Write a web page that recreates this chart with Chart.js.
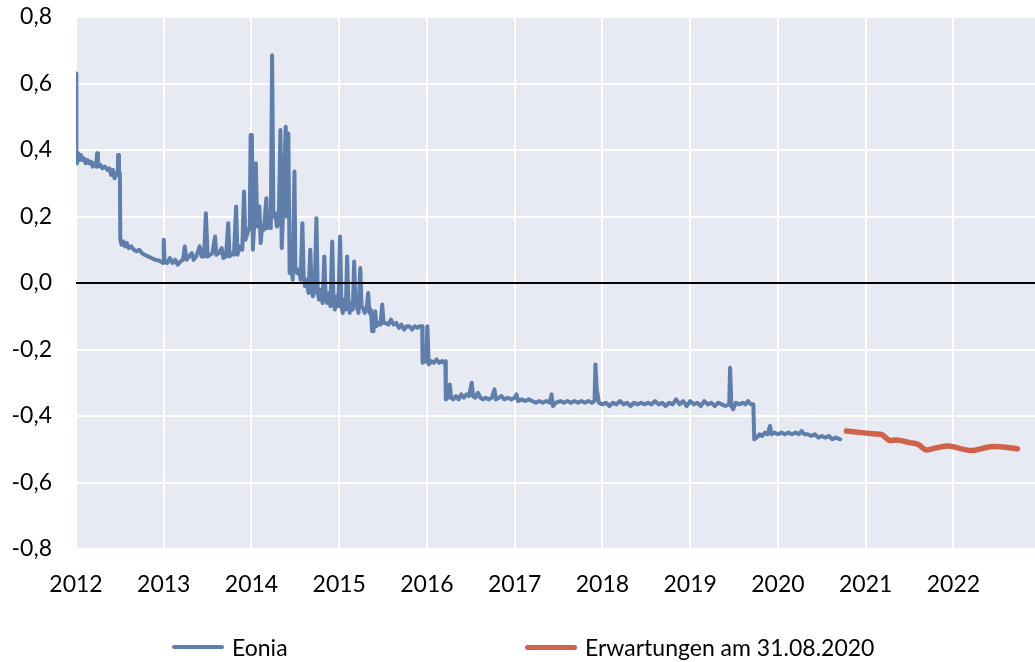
<!DOCTYPE html>
<html lang="de">
<head>
    <meta charset="UTF-8">
    <title>Eonia und Erwartungen</title>
    <script src="https://cdn.jsdelivr.net/npm/chart.js"></script>
    <style>
        body {
            margin: 0;
            background: #fff;
            font-family: 'Lato', sans-serif;
        }

        .chart-wrap {
            position: relative;
            width: 1035px;
            height: 662px;
        }

        .legend {
            position: absolute;
            top: 633px;
            left: 0;
            width: 1035px;
            height: 28px;
        }

        .legend-item {
            position: absolute;
            top: 0;
            display: flex;
            align-items: center;
            height: 28px;
            font-size: 23px;
            color: #000;
            white-space: nowrap;
        }

        .legend-line {
            display: inline-block;
            width: 52px;
            margin-right: 8px;
            border-radius: 3px;
        }
    </style>
</head>
<body>
    <div class="chart-wrap">
        <canvas id="eoniaChart"></canvas>
        <div class="legend">
            <div class="legend-item" style="left:172px">
                <span class="legend-line" style="height:4px;background:#5f7eac"></span>Eonia
            </div>
            <div class="legend-item" style="left:525px">
                <span class="legend-line" style="height:5px;background:#d0624c"></span>Erwartungen am 31.08.2020
            </div>
        </div>
    </div>

    <script>
        // Eonia, Tageswerte, x = Jahr als Dezimalzahl
        const eoniaX = [
            2012.000, 2012.004, 2012.012, 2012.025, 2012.040, 2012.055, 2012.070, 2012.090, 2012.110, 2012.130,
            2012.150, 2012.170, 2012.190, 2012.210, 2012.230, 2012.240, 2012.250, 2012.280, 2012.300, 2012.330,
            2012.360, 2012.380, 2012.400, 2012.420, 2012.440, 2012.460, 2012.475, 2012.480, 2012.490, 2012.500,
            2012.505, 2012.520, 2012.540, 2012.560, 2012.580, 2012.600, 2012.630, 2012.660, 2012.690, 2012.720,
            2012.750, 2012.780, 2012.820, 2012.860, 2012.900, 2012.940, 2012.970, 2012.995, 2013.000, 2013.010,
            2013.040, 2013.070, 2013.100, 2013.130, 2013.160, 2013.190, 2013.220, 2013.240, 2013.260, 2013.290,
            2013.320, 2013.340, 2013.370, 2013.410, 2013.430, 2013.460, 2013.480, 2013.500, 2013.530, 2013.555,
            2013.585, 2013.600, 2013.630, 2013.660, 2013.680, 2013.710, 2013.735, 2013.750, 2013.780, 2013.800,
            2013.825, 2013.840, 2013.870, 2013.895, 2013.915, 2013.930, 2013.955, 2013.980, 2013.990, 2014.005,
            2014.015, 2014.030, 2014.050, 2014.065, 2014.080, 2014.090, 2014.105, 2014.120, 2014.140, 2014.170,
            2014.180, 2014.200, 2014.220, 2014.235, 2014.250, 2014.270, 2014.290, 2014.310, 2014.330, 2014.345,
            2014.360, 2014.390, 2014.400, 2014.420, 2014.435, 2014.450, 2014.470, 2014.490, 2014.500, 2014.520,
            2014.540, 2014.560, 2014.580, 2014.595, 2014.610, 2014.630, 2014.650, 2014.670, 2014.685, 2014.700,
            2014.720, 2014.740, 2014.755, 2014.770, 2014.790, 2014.810, 2014.830, 2014.845, 2014.860, 2014.880,
            2014.900, 2014.920, 2014.935, 2014.950, 2014.970, 2014.990, 2015.010, 2015.025, 2015.040, 2015.060,
            2015.075, 2015.090, 2015.105, 2015.120, 2015.140, 2015.155, 2015.170, 2015.185, 2015.200, 2015.220,
            2015.240, 2015.255, 2015.270, 2015.290, 2015.310, 2015.330, 2015.345, 2015.360, 2015.375, 2015.390,
            2015.410, 2015.425, 2015.450, 2015.470, 2015.490, 2015.505, 2015.530, 2015.560, 2015.590, 2015.620,
            2015.650, 2015.680, 2015.710, 2015.740, 2015.770, 2015.800, 2015.830, 2015.860, 2015.890, 2015.920,
            2015.945, 2015.950, 2015.990, 2016.005, 2016.020, 2016.050, 2016.080, 2016.110, 2016.140, 2016.170,
            2016.195, 2016.210, 2016.215, 2016.240, 2016.260, 2016.275, 2016.300, 2016.330, 2016.360, 2016.390,
            2016.420, 2016.450, 2016.480, 2016.510, 2016.525, 2016.550, 2016.580, 2016.610, 2016.640, 2016.670,
            2016.700, 2016.740, 2016.770, 2016.785, 2016.820, 2016.850, 2016.880, 2016.920, 2016.960, 2017.000,
            2017.020, 2017.040, 2017.080, 2017.120, 2017.160, 2017.200, 2017.240, 2017.280, 2017.320, 2017.360,
            2017.400, 2017.420, 2017.435, 2017.470, 2017.520, 2017.560, 2017.600, 2017.640, 2017.680, 2017.720,
            2017.760, 2017.800, 2017.840, 2017.880, 2017.910, 2017.920, 2017.935, 2017.960, 2018.000, 2018.040,
            2018.080, 2018.120, 2018.160, 2018.200, 2018.240, 2018.280, 2018.320, 2018.360, 2018.400, 2018.440,
            2018.480, 2018.520, 2018.560, 2018.600, 2018.640, 2018.680, 2018.720, 2018.760, 2018.800, 2018.840,
            2018.880, 2018.920, 2018.960, 2019.000, 2019.040, 2019.080, 2019.120, 2019.160, 2019.200, 2019.240,
            2019.280, 2019.320, 2019.360, 2019.400, 2019.445, 2019.455, 2019.470, 2019.490, 2019.520, 2019.560,
            2019.600, 2019.630, 2019.660, 2019.690, 2019.720, 2019.730, 2019.760, 2019.790, 2019.820, 2019.850,
            2019.880, 2019.910, 2019.925, 2019.960, 2020.000, 2020.040, 2020.080, 2020.120, 2020.160, 2020.200,
            2020.240, 2020.270, 2020.300, 2020.340, 2020.380, 2020.420, 2020.460, 2020.500, 2020.540, 2020.580,
            2020.620, 2020.660, 2020.710
        ];
        const eoniaY = [
            0.63, 0.37, 0.36, 0.39, 0.37, 0.385, 0.37, 0.375, 0.36, 0.37,
            0.36, 0.365, 0.35, 0.36, 0.35, 0.39, 0.35, 0.355, 0.345, 0.35,
            0.34, 0.345, 0.325, 0.34, 0.315, 0.33, 0.325, 0.385, 0.33, 0.33,
            0.13, 0.115, 0.125, 0.11, 0.12, 0.105, 0.11, 0.10, 0.095, 0.10,
            0.09, 0.085, 0.08, 0.075, 0.07, 0.068, 0.064, 0.06, 0.13, 0.065,
            0.06, 0.075, 0.06, 0.07, 0.055, 0.065, 0.07, 0.11, 0.07, 0.08,
            0.09, 0.07, 0.08, 0.11, 0.08, 0.08, 0.21, 0.08, 0.085, 0.09,
            0.14, 0.085, 0.09, 0.105, 0.075, 0.08, 0.18, 0.08, 0.09, 0.085,
            0.23, 0.085, 0.11, 0.10, 0.275, 0.13, 0.15, 0.17, 0.445, 0.445,
            0.10, 0.17, 0.36, 0.17, 0.20, 0.23, 0.12, 0.17, 0.16, 0.255,
            0.165, 0.17, 0.165, 0.685, 0.20, 0.21, 0.17, 0.18, 0.46, 0.105,
            0.21, 0.47, 0.20, 0.45, 0.03, 0.06, 0.01, 0.335, 0.05, 0.03,
            0.04, 0.01, 0.18, 0.02, -0.01, 0.01, -0.03, 0.10, -0.02, -0.04,
            -0.02, 0.195, -0.03, -0.05, -0.02, -0.06, 0.08, -0.04, -0.06, -0.03,
            -0.07, 0.125, -0.05, -0.08, -0.04, -0.07, 0.14, -0.07, -0.09, -0.05,
            -0.08, 0.08, -0.06, -0.09, -0.06, -0.08, 0.065, -0.06, -0.07, -0.09,
            0.045, -0.07, -0.075, -0.09, -0.08, -0.03, -0.09, -0.08, -0.145, -0.145,
            -0.085, -0.13, -0.12, -0.125, -0.065, -0.12, -0.12, -0.125, -0.11, -0.125,
            -0.12, -0.135, -0.125, -0.14, -0.13, -0.13, -0.14, -0.13, -0.135, -0.13,
            -0.13, -0.24, -0.235, -0.13, -0.245, -0.235, -0.24, -0.23, -0.24, -0.235,
            -0.24, -0.235, -0.35, -0.345, -0.305, -0.345, -0.35, -0.34, -0.35, -0.335,
            -0.345, -0.335, -0.34, -0.30, -0.34, -0.345, -0.33, -0.345, -0.35, -0.345,
            -0.35, -0.345, -0.32, -0.35, -0.345, -0.34, -0.35, -0.345, -0.35, -0.345,
            -0.335, -0.355, -0.35, -0.355, -0.35, -0.355, -0.36, -0.355, -0.36, -0.355,
            -0.36, -0.335, -0.37, -0.36, -0.355, -0.36, -0.355, -0.36, -0.355, -0.36,
            -0.355, -0.36, -0.355, -0.36, -0.355, -0.245, -0.32, -0.36, -0.365, -0.36,
            -0.37, -0.36, -0.365, -0.355, -0.365, -0.36, -0.37, -0.36, -0.365, -0.36,
            -0.365, -0.36, -0.365, -0.355, -0.365, -0.36, -0.37, -0.36, -0.365, -0.35,
            -0.365, -0.355, -0.37, -0.355, -0.365, -0.36, -0.37, -0.355, -0.365, -0.36,
            -0.37, -0.36, -0.365, -0.37, -0.365, -0.255, -0.37, -0.38, -0.36, -0.365,
            -0.36, -0.365, -0.355, -0.365, -0.365, -0.47, -0.465, -0.455, -0.46, -0.45,
            -0.455, -0.43, -0.455, -0.45, -0.455, -0.45, -0.455, -0.45, -0.455, -0.45,
            -0.455, -0.445, -0.455, -0.455, -0.46, -0.455, -0.465, -0.46, -0.465, -0.46,
            -0.47, -0.465, -0.47
        ];

        // Markterwartungen vom 31.08.2020
        const forecastX = [2020.78, 2020.95, 2021.10, 2021.19, 2021.28, 2021.35, 2021.50, 2021.60, 2021.69,
                           2021.80, 2021.94, 2022.08, 2022.21, 2022.35, 2022.46, 2022.60, 2022.73];
        const forecastY = [-0.445, -0.45, -0.454, -0.457, -0.474, -0.472, -0.48, -0.486, -0.502,
                           -0.496, -0.49, -0.498, -0.504, -0.496, -0.492, -0.494, -0.499];

        // Achsen
        const xMin = 2012;
        const xMax = 2022.93;
        const yTicks = [-0.8, -0.6, -0.4, -0.2, 0.0, 0.2, 0.4, 0.6, 0.8];

        const seriesNames = ['Eonia', 'Erwartungen am 31.08.2020'];

        function toPoints(xs, ys) {
            return xs.map((x, i) => ({ x: x, y: ys[i] }));
        }

        // Hintergrund der Zeichenfläche und Nulllinie
        const plotArea = {
            id: 'plotArea',
            beforeDraw(chart) {
                const { ctx, chartArea } = chart;
                ctx.save();
                ctx.fillStyle = '#e7eaf2';
                ctx.fillRect(chartArea.left, chartArea.top,
                    chartArea.right - chartArea.left, chartArea.bottom - chartArea.top);
                ctx.restore();
            },
            afterDatasetsDraw(chart) {
                const { ctx, chartArea } = chart;
                const y0 = chart.scales.y.getPixelForValue(0);
                ctx.save();
                ctx.strokeStyle = '#000';
                ctx.lineWidth = 2;
                ctx.beginPath();
                ctx.moveTo(chartArea.left, y0);
                ctx.lineTo(chartArea.right, y0);
                ctx.stroke();
                ctx.restore();
            }
        };

        const tickFont = { family: 'Lato', size: 23 };

        new Chart(document.getElementById('eoniaChart'), {
            type: 'line',
            data: {
                datasets: [{
                    label: seriesNames[0],
                    data: toPoints(eoniaX, eoniaY),
                    borderColor: '#5f7eac',
                    borderWidth: 4,
                    pointRadius: 0,
                    tension: 0,
                    borderJoinStyle: 'round',
                    borderCapStyle: 'round'
                }, {
                    label: seriesNames[1],
                    data: toPoints(forecastX, forecastY),
                    borderColor: '#d0624c',
                    borderWidth: 5.5,
                    pointRadius: 0,
                    tension: 0.4,
                    cubicInterpolationMode: 'monotone',
                    borderCapStyle: 'round'
                }]
            },
            options: {
                responsive: true,
                maintainAspectRatio: false,
                animation: false,
                layout: { padding: { top: 17, right: 0, bottom: 0, left: 0 } },
                plugins: {
                    legend: { display: false },
                    tooltip: { enabled: false }
                },
                scales: {
                    x: {
                        type: 'linear',
                        min: xMin,
                        max: xMax,
                        afterFit: s => { s.height = 113; },
                        border: { display: false },
                        grid: { color: '#ffffff', lineWidth: 2, drawTicks: false },
                        ticks: {
                            stepSize: 1,
                            includeBounds: false,
                            autoSkip: false,
                            maxRotation: 0,
                            padding: 22,
                            color: '#000',
                            font: tickFont,
                            callback: v => String(v)
                        }
                    },
                    y: {
                        min: yTicks[0],
                        max: yTicks[yTicks.length - 1],
                        afterFit: s => {
                            s.width = 76;
                            s.paddingTop = 0;
                            s.paddingBottom = 0;
                        },
                        afterBuildTicks: s => { s.ticks = yTicks.map(v => ({ value: v })); },
                        border: { display: false },
                        grid: { color: '#ffffff', lineWidth: 2, drawTicks: false },
                        ticks: {
                            padding: 24,
                            color: '#000',
                            font: tickFont,
                            callback: v => v.toFixed(1).replace('.', ',')
                        }
                    }
                }
            },
            plugins: [plotArea]
        });
    </script>
</body>
</html>
